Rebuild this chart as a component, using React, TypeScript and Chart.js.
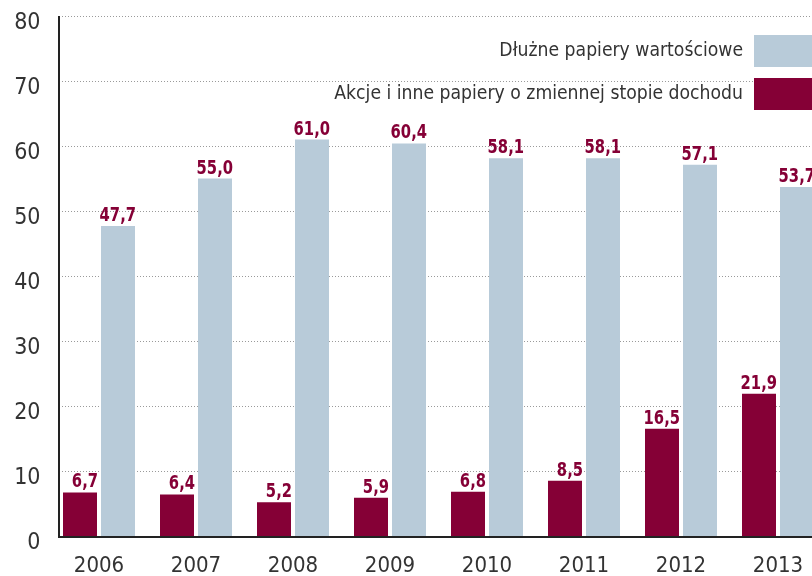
import React, { useEffect, useRef } from 'react';
import { Chart, registerables } from 'chart.js';

Chart.register(...registerables);

const years = ['2006', '2007', '2008', '2009', '2010', '2011', '2012', '2013'];
const akcje = [6.7, 6.4, 5.2, 5.9, 6.8, 8.5, 16.5, 21.9];
const dluzne = [47.7, 55.0, 61.0, 60.4, 58.1, 58.1, 57.1, 53.7];
const seriesNames = ['Akcje i inne papiery o zmiennej stopie dochodu', 'Dłużne papiery wartościowe'];
const yMin = 0;
const yMax = 80;
const yStep = 10;

const MAROON = '#850036';
const BLUE = '#b8cbd9';
const TEXT = '#333333';
const FONT = '"Liberation Sans Narrow", "DejaVu Sans Condensed", "Roboto", sans-serif';

const fmt = (v: number) => v.toFixed(1).replace('.', ',');

const framePlugin = {
  id: 'frame',
  beforeDatasetsDraw(chart: any) {
    const { ctx, chartArea, scales } = chart;
    const y = scales.y;
    const axisX = Math.round(chartArea.left + 8);
    const right = chart.width;
    ctx.save();
    ctx.strokeStyle = '#9a9a9a';
    ctx.lineWidth = 1;
    ctx.setLineDash([1, 2]);
    y.ticks.forEach((t: any) => {
      if (t.value === yMin) return;
      const py = Math.round(y.getPixelForValue(t.value)) + 0.5;
      ctx.beginPath();
      ctx.moveTo(axisX, py);
      ctx.lineTo(right, py);
      ctx.stroke();
    });
    ctx.setLineDash([]);
    ctx.strokeStyle = '#222222';
    ctx.lineWidth = 2;
    const by = Math.round(y.getPixelForValue(yMin));
    ctx.beginPath();
    ctx.moveTo(axisX - 1, by + 1);
    ctx.lineTo(right, by + 1);
    ctx.stroke();
    ctx.beginPath();
    ctx.moveTo(axisX, Math.round(y.getPixelForValue(yMax)));
    ctx.lineTo(axisX, by + 2);
    ctx.stroke();
    ctx.restore();
  },
  afterDatasetsDraw(chart: any) {
    const { ctx, chartArea } = chart;
    ctx.save();
    ctx.font = `bold 20px ${FONT}`;
    ctx.fillStyle = MAROON;
    ctx.textAlign = 'right';
    ctx.textBaseline = 'alphabetic';
    const sx = 0.82;
    chart.data.datasets.forEach((ds: any, di: number) => {
      const meta = chart.getDatasetMeta(di);
      meta.data.forEach((bar: any, i: number) => {
        const v = ds.data[i];
        const tx = bar.x + bar.width / 2 + 1;
        const ty = bar.y - 5;
        ctx.save();
        ctx.translate(tx, ty);
        ctx.scale(sx, 1);
        ctx.fillText(fmt(v), 0, 0);
        ctx.restore();
      });
    });
    ctx.font = `19.2px ${FONT}`;
    ctx.textBaseline = 'middle';
    const boxLeft = Math.round(chartArea.right - 73);
    const rows = [1, 0];
    rows.forEach((di, r) => {
      const ds = chart.data.datasets[di];
      const cy = chartArea.top + 35 + r * 43;
      ctx.fillStyle = ds.backgroundColor;
      ctx.fillRect(boxLeft, cy - 16, 70, 32);
      ctx.fillStyle = TEXT;
      ctx.textAlign = 'right';
      ctx.fillText(ds.label, boxLeft - 11, cy);
    });
    ctx.restore();
  },
};

export default function App() {
  const ref = useRef<HTMLCanvasElement>(null);
  useEffect(() => {
    if (!ref.current) return;
    const chart = new Chart(ref.current, {
      type: 'bar',
      data: {
        labels: years,
        datasets: [
          { label: seriesNames[0], data: akcje, backgroundColor: MAROON },
          { label: seriesNames[1], data: dluzne, backgroundColor: BLUE },
        ],
      },
      options: {
        responsive: false,
        animation: false,
        events: [],
        layout: { padding: { top: 16, right: 3.5, left: 0.5, bottom: 0 } },
        datasets: { bar: { categoryPercentage: 76 / 97, barPercentage: 34 / 38 } } as any,
        plugins: { legend: { display: false }, tooltip: { enabled: false } },
        scales: {
          x: {
            grid: { display: false, drawTicks: false },
            border: { display: false },
            ticks: { color: TEXT, font: { family: FONT, size: 22 }, padding: 17 },
            afterFit: (s: any) => { s.height = 40; s.paddingLeft = 0; s.paddingRight = 0; },
          },
          y: {
            min: yMin,
            max: yMax,
            grid: { display: false, drawTicks: false },
            border: { display: false },
            ticks: { stepSize: yStep, color: TEXT, font: { family: FONT, size: 23 }, padding: 10, labelOffset: 7 },
            afterFit: (s: any) => { s.width = 50; s.paddingTop = 0; s.paddingBottom = 0; },
          },
        },
      },
      plugins: [framePlugin],
    });
    return () => chart.destroy();
  }, []);
  return (
    <div style={{ position: 'fixed', left: 0, top: 0, width: 812, height: 576, overflow: 'hidden', background: '#fff' }}>
      <canvas ref={ref} width={830} height={576} style={{ display: 'block' }} />
    </div>
  );
}
